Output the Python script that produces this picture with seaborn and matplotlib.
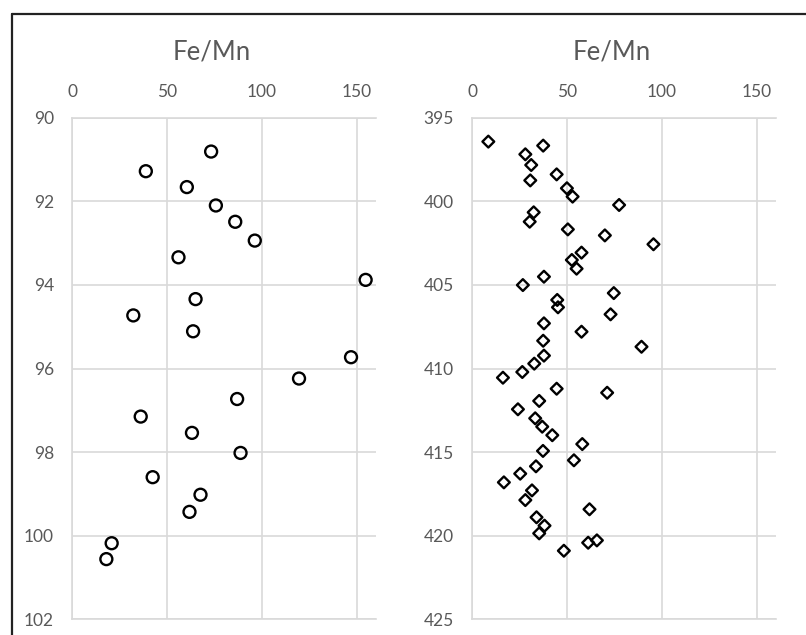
import matplotlib
matplotlib.use("Agg")
import matplotlib.pyplot as plt
from matplotlib.lines import Line2D
import seaborn as sns
import pandas as pd

# ---- data ----
left_depth = [90.81, 91.28, 91.66, 92.10, 92.49, 92.94, 93.34, 93.88, 94.34, 94.73,
              95.11, 95.73, 96.24, 96.73, 97.15, 97.54, 98.02, 98.60, 99.02, 99.43,
              100.18, 100.56]
left_femn = [73.3, 38.9, 60.5, 75.8, 86.0, 96.3, 56.1, 154.7, 65.1, 32.3,
             63.8, 147.0, 119.6, 87.0, 36.2, 63.2, 88.8, 42.5, 67.7, 61.9,
             20.9, 18.1]

right_depth = [396.43, 396.67, 397.19, 397.83, 398.39, 398.75, 399.22, 399.72, 400.22, 400.66,
               401.22, 401.68, 402.04, 402.57, 403.07, 403.51, 404.03, 404.51, 405.01, 405.49,
               405.90, 406.34, 406.76, 407.30, 407.80, 408.34, 408.70, 409.23, 409.71, 410.21,
               410.55, 411.21, 411.45, 411.94, 412.44, 412.98, 413.48, 413.99, 414.52, 414.93,
               415.49, 415.85, 416.29, 416.81, 417.29, 417.87, 418.42, 418.90, 419.40, 419.86,
               420.28, 420.42, 420.90]
right_femn = [8.6, 37.5, 28.1, 31.2, 44.6, 30.7, 50.0, 53.0, 77.5, 32.5,
              30.4, 50.5, 70.0, 95.6, 57.7, 52.6, 55.1, 37.9, 26.8, 74.7,
              44.9, 45.3, 73.0, 37.9, 57.7, 37.5, 89.3, 37.9, 32.8, 26.5,
              16.3, 44.6, 71.2, 35.4, 24.2, 33.3, 37.0, 42.3, 58.1, 37.4,
              53.7, 33.7, 25.4, 16.8, 31.6, 28.1, 61.9, 34.0, 38.2, 35.4,
              65.8, 61.2, 48.4]

x_ticks = [0, 50, 100, 150]
left_yticks = [90, 92, 94, 96, 98, 100, 102]
right_yticks = [395, 400, 405, 410, 415, 420, 425]
title = "Fe/Mn"

# ---- styling ----
sns.set_theme(style="white")
plt.rcParams["font.family"] = ["Lato", "DejaVu Sans"]
TXT = "#595959"
GRID = "#d9d9d9"

W, H = 806, 635
fig = plt.figure(figsize=(W / 100, H / 100), dpi=100)
fig.patch.set_facecolor("white")

def px_axes(x0, y0, x1, y1):
    return fig.add_axes([x0 / W, 1 - y1 / H, (x1 - x0) / W, (y1 - y0) / H])

ax1 = px_axes(72, 117.7, 375.7, 619.3)
ax2 = px_axes(472, 117.7, 775.7, 619.3)

df1 = pd.DataFrame({"femn": left_femn, "depth": left_depth})
df2 = pd.DataFrame({"femn": right_femn, "depth": right_depth})

sns.scatterplot(data=df1, x="femn", y="depth", ax=ax1, marker="o", s=74,
                facecolors="none", edgecolor="black", linewidth=1.7, zorder=3)
sns.scatterplot(data=df2, x="femn", y="depth", ax=ax2, marker="D", s=36,
                facecolors="none", edgecolor="black", linewidth=1.7, zorder=3)

for ax, yt in ((ax1, left_yticks), (ax2, right_yticks)):
    ax.set_xlim(0, 160)
    ax.set_ylim(yt[-1], yt[0])
    ax.set_xticks(x_ticks)
    ax.set_yticks(yt)
    ax.xaxis.tick_top()
    ax.tick_params(length=0, labelsize=12.5, labelcolor=TXT, pad=13)
    ax.grid(True, color=GRID, linewidth=1.2)
    ax.set_axisbelow(True)
    ax.set_xlabel("")
    ax.set_ylabel("")
    for side in ("left", "top", "bottom"):
        ax.spines[side].set_visible(True)
        ax.spines[side].set_color(GRID)
        ax.spines[side].set_linewidth(1.2)
    ax.spines["right"].set_visible(False)
    ax.set_facecolor("white")

fig.text(212 / W, 1 - 52 / H, title, ha="center", va="center", fontsize=18.5, color=TXT)
fig.text(612 / W, 1 - 52 / H, title, ha="center", va="center", fontsize=18.5, color=TXT)

# outer frame (top and left edges visible)
fig.add_artist(Line2D([12 / W, 1.0], [1 - 14 / H, 1 - 14 / H], transform=fig.transFigure,
                      color="#222222", linewidth=1.6))
fig.add_artist(Line2D([12 / W, 12 / W], [0, 1 - 14 / H], transform=fig.transFigure,
                      color="#222222", linewidth=1.6))

fig.savefig("out.png", dpi=100, facecolor="white")
